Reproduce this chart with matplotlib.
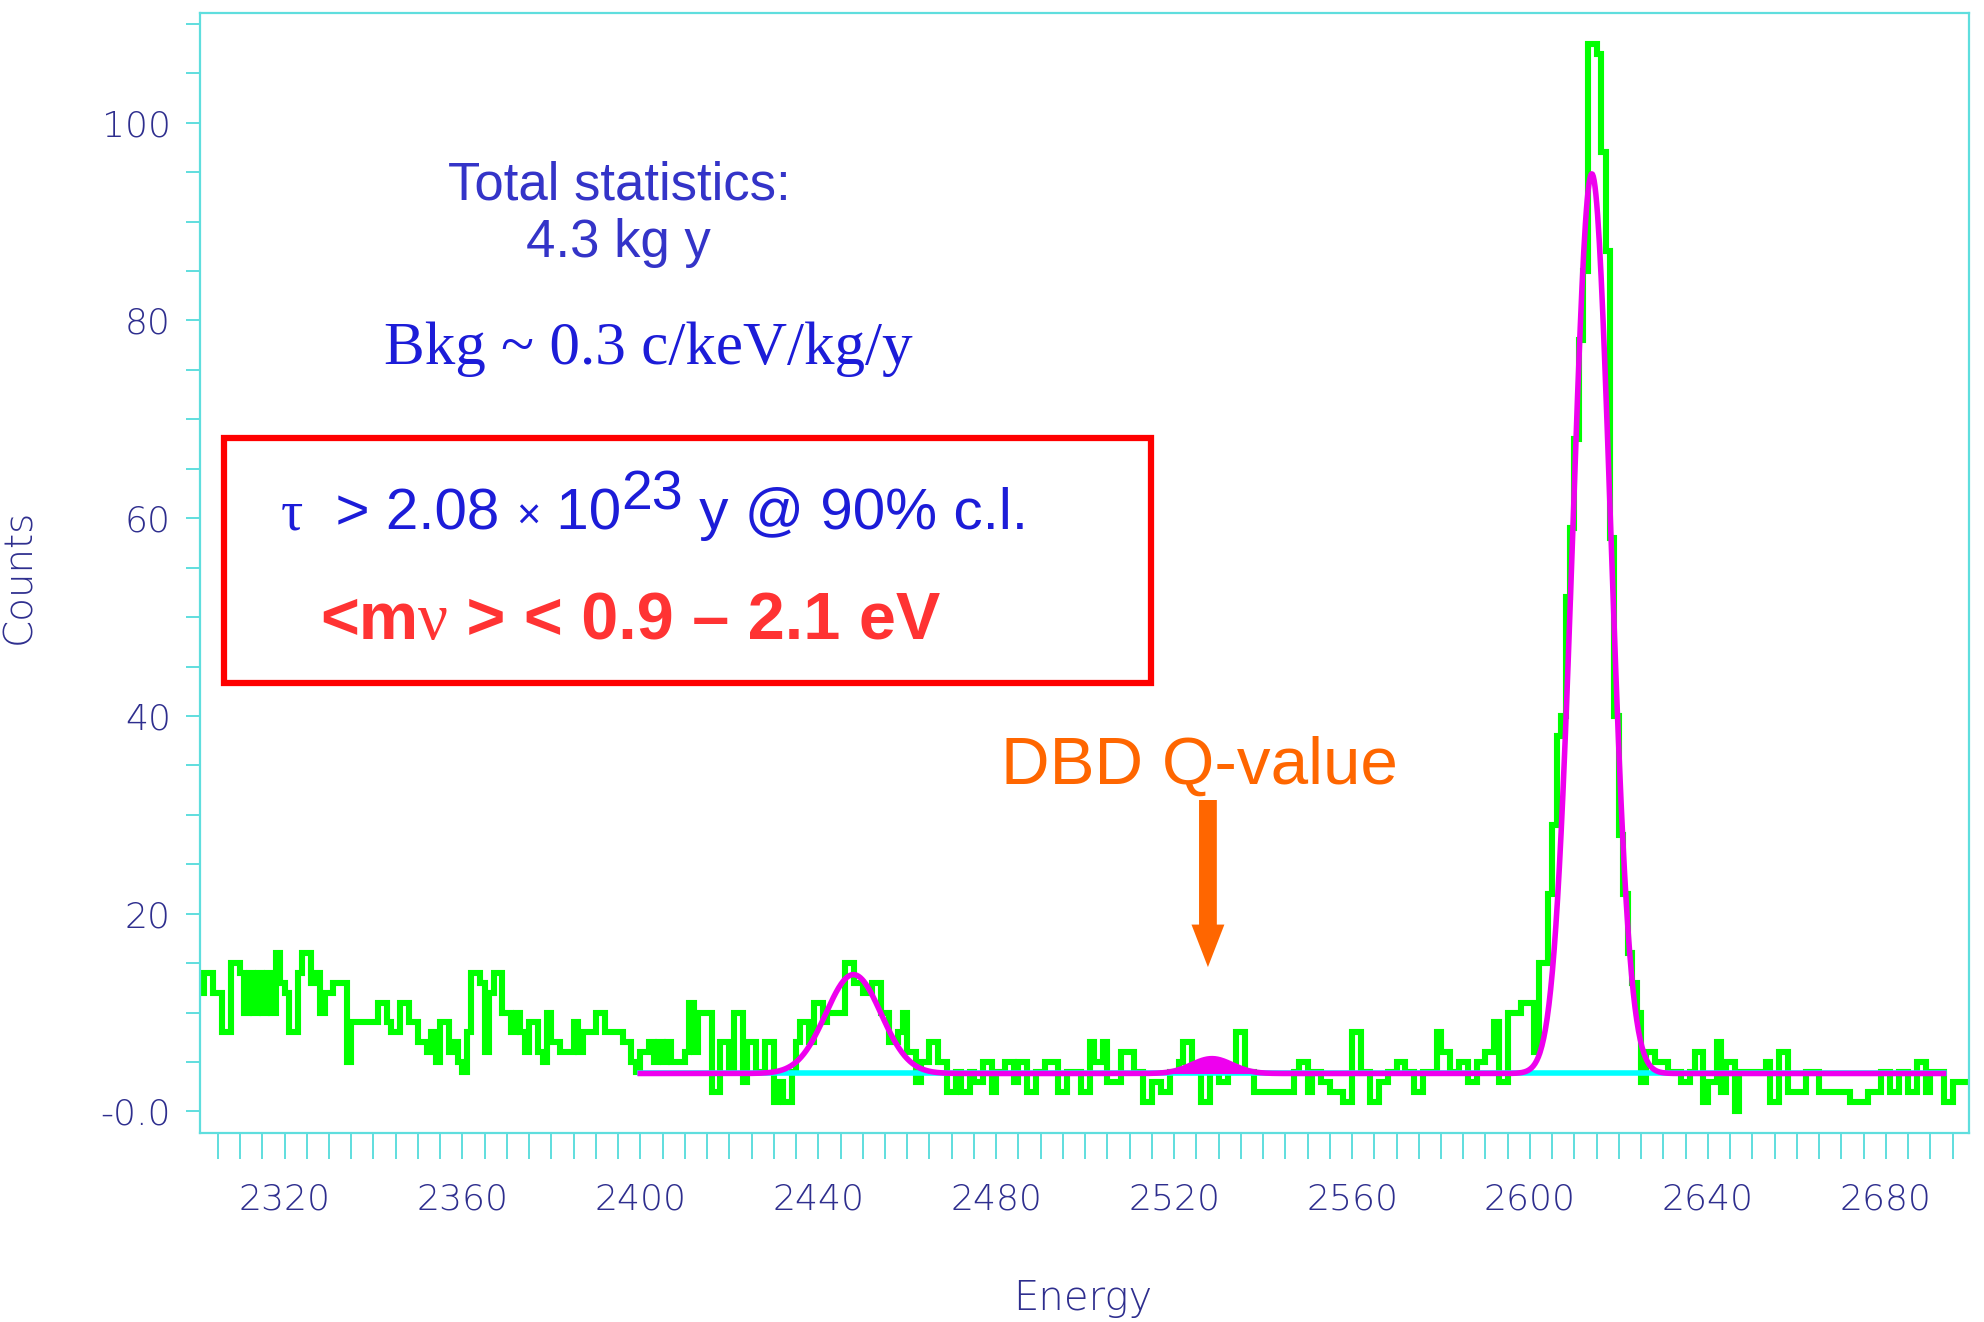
import numpy as np
import matplotlib.pyplot as plt
from matplotlib.patches import Rectangle, FancyArrow
from matplotlib.ticker import MultipleLocator, FuncFormatter

# spectrum: 1 keV bins from 2300 to 2700 keV (counts)
bin_edges = np.arange(2300, 2701, 1)

counts_2300 = [12, 12, 14, 14, 12, 12, 8, 8, 15, 15,
               14, 10, 14, 10, 14, 10, 14, 10, 16, 13,
               12, 8, 8, 14, 16, 16, 13, 14, 10, 12,
               12, 13, 13, 13, 5, 9, 9, 9, 9, 9,
               9, 11, 11, 9, 8, 8, 11, 11, 9, 9,
               7, 7, 6, 8, 5, 9, 9, 6, 7, 5,
               4, 8, 14, 14, 13, 6, 12, 14, 14, 10,
               10, 8, 10, 8, 6, 9, 9, 6, 5, 10,
               7, 7, 6, 6, 6, 9, 6, 8, 8, 8,
               10, 10, 8, 8, 8, 8, 7, 7, 5, 4]
counts_2400 = [6, 6, 7, 5, 7, 5, 7, 5, 5, 5,
               6, 11, 6, 10, 10, 10, 2, 2, 7, 7,
               4, 10, 10, 3, 7, 7, 4, 4, 7, 7,
               1, 3, 1, 1, 4, 7, 9, 9, 7, 11,
               11, 9, 10, 10, 10, 10, 15, 15, 13, 13,
               12, 12, 13, 13, 10, 10, 7, 7, 8, 10,
               6, 6, 3, 5, 5, 7, 7, 5, 5, 2,
               2, 4, 2, 2, 4, 3, 3, 5, 5, 2,
               4, 4, 5, 5, 3, 5, 5, 2, 2, 4,
               4, 5, 5, 5, 2, 2, 4, 4, 4, 2]
counts_2500 = [2, 7, 5, 5, 7, 3, 3, 3, 6, 6,
               6, 4, 4, 1, 1, 3, 3, 2, 2, 4,
               4, 5, 7, 7, 4, 4, 1, 1, 4, 4,
               3, 3, 4, 4, 8, 8, 4, 4, 2, 2,
               2, 2, 2, 2, 2, 2, 2, 4, 5, 5,
               2, 4, 4, 3, 3, 2, 2, 2, 1, 1,
               8, 8, 4, 4, 1, 1, 3, 3, 4, 4,
               5, 5, 4, 4, 2, 2, 4, 4, 4, 8,
               6, 6, 4, 4, 5, 5, 3, 3, 5, 5,
               6, 6, 9, 3, 3, 10, 10, 10, 11, 11]
counts_2600 = [11, 6, 15, 15, 22, 29, 38, 40, 52, 59,
               68, 78, 85, 108, 108, 107, 97, 87, 58, 40,
               28, 22, 16, 13, 10, 3, 6, 6, 5, 5,
               5, 4, 4, 4, 3, 3, 4, 6, 6, 1,
               3, 3, 7, 2, 5, 5, 0, 4, 4, 4,
               4, 4, 4, 5, 1, 1, 6, 6, 2, 2,
               2, 2, 4, 4, 4, 2, 2, 2, 2, 2,
               2, 2, 1, 1, 1, 1, 2, 2, 2, 4,
               4, 2, 2, 4, 4, 2, 2, 5, 5, 2,
               4, 4, 4, 1, 1, 3, 3, 3, 3, 3]
counts = np.array(counts_2300 + counts_2400 + counts_2500 + counts_2600)

# fit: flat background + gaussian lines
fit_start, fit_end = 2400, 2693
fit_bkg = 3.84
line_centres = [2447.9, 2528.5, 2613.9]
line_amps = [10.0, 1.5, 91.0]
line_sigmas = [6.2, 4.5, 4.25]

q_value = 2527.6

W, H = 1984, 1322


def fx(px):
    return px / W


def fy(py):
    return 1 - py / H


fig = plt.figure(figsize=(W / 100, H / 100), dpi=100)
ax = fig.add_axes([fx(200), fy(1133), fx(1969) - fx(200), fy(13) - fy(1133)])

axis_col = '#5fdede'
tick_col = '#2e2e8e'

ax.stairs(counts, bin_edges, baseline=None, color='#00ff00', lw=4.4, zorder=2)

e = np.linspace(fit_start, fit_end, 1500)
model = np.full_like(e, fit_bkg)
for c, a, s in zip(line_centres, line_amps, line_sigmas):
    model += a * np.exp(-0.5 * ((e - c) / s) ** 2)

ax.plot([fit_start, fit_end], [fit_bkg, fit_bkg], color='#00ffff', lw=4.0, zorder=3)
ax.plot(e, model, color='#ee00ee', lw=4.0, zorder=4)
bump = (e > line_centres[1] - 18) & (e < line_centres[1] + 18)
ax.fill_between(e[bump], fit_bkg, model[bump], color='#ee00ee', lw=0, zorder=4)

# Q-value arrow
ax.add_patch(FancyArrow(q_value, 31.5, 0, 14.6 - 31.5, width=4.0, head_width=7.4,
                        head_length=4.3, length_includes_head=True,
                        color='#ff6600', lw=0, zorder=5))

ax.set_xlim(2301, 2698.7)
ax.set_ylim(-2.18, 111.1)

ax.xaxis.set_major_locator(MultipleLocator(40))
ax.xaxis.set_minor_locator(MultipleLocator(5))
ax.yaxis.set_major_locator(MultipleLocator(20))
ax.yaxis.set_minor_locator(MultipleLocator(5))
ax.yaxis.set_major_formatter(FuncFormatter(lambda v, p: '-0.0' if v == 0 else '%d' % v))

for s in ax.spines.values():
    s.set_color(axis_col)
    s.set_linewidth(1.6)

ax.tick_params(axis='x', which='both', direction='out', length=19, width=1.4,
               color=axis_col, pad=17, labelsize=26, labelcolor=tick_col)
ax.tick_params(axis='y', which='both', direction='out', length=10, width=1.4,
               color=axis_col, pad=11, labelsize=26, labelcolor=tick_col)
for lab in ax.get_xticklabels() + ax.get_yticklabels():
    lab.set_fontweight('light')

fig.text(fx(19), fy(576), 'Counts', rotation=90, ha='center', va='center',
         fontsize=28, color=tick_col, fontweight='light')
fig.text(fx(1083), fy(1318), 'Energy', ha='center', va='bottom',
         fontsize=29, color=tick_col, fontweight='light')

# annotations
sans = 'Liberation Sans'
serif = 'Liberation Serif'
fig.text(fx(619), fy(200), 'Total statistics:', ha='center', va='baseline',
         fontsize=38, color='#3434c8', family=sans)
fig.text(fx(618), fy(257), '4.3 kg y', ha='center', va='baseline',
         fontsize=38, color='#3434c8', family=sans)
fig.text(fx(648), fy(364), 'Bkg ~ 0.3 c/keV/kg/y', ha='center', va='baseline',
         fontsize=44, color='#1c1cd8', family=serif)

fig.add_artist(Rectangle((fx(224), fy(683)), fx(1151) - fx(224), fy(438) - fy(683),
                         transform=fig.transFigure, fill=False, ec='#ff0000', lw=4.5))

# lifetime line built from pieces so the exponent stays large
renderer = fig.canvas.get_renderer()
x0 = 281
pieces = [('\u03c4', serif, 0, 40), ('  > 2.08 ', sans, 0, 42), ('\u00d7', sans, 0, 30),
          (' 10', sans, 0, 42), ('23', sans, 20, 40), (' y @ 90% c.l.', sans, 0, 42)]
for txt, fam, dy, size in pieces:
    t = fig.text(fx(x0), fy(529) + dy / H, txt, ha='left', va='baseline',
                 fontsize=size, color='#1c1cd8', family=fam)
    x0 += t.get_window_extent(renderer).width

t = fig.text(fx(320), fy(639), '<m', ha='left', va='baseline',
             fontsize=48, color='#ff3333', family=sans, fontweight='bold')
xm = 320 + t.get_window_extent(renderer).width
t = fig.text(fx(xm), fy(639), '\u03bd', ha='left', va='baseline',
             fontsize=48, color='#ff3333', family=serif)
xm += t.get_window_extent(renderer).width
fig.text(fx(xm), fy(639), ' > < 0.9 \u2013 2.1 eV', ha='left', va='baseline',
         fontsize=48, color='#ff3333', family=sans, fontweight='bold')

fig.text(fx(1199), fy(784), 'DBD Q-value', ha='center', va='baseline',
         fontsize=48.5, color='#ff6600', family=sans)

fig.savefig('out.png', dpi=100)
